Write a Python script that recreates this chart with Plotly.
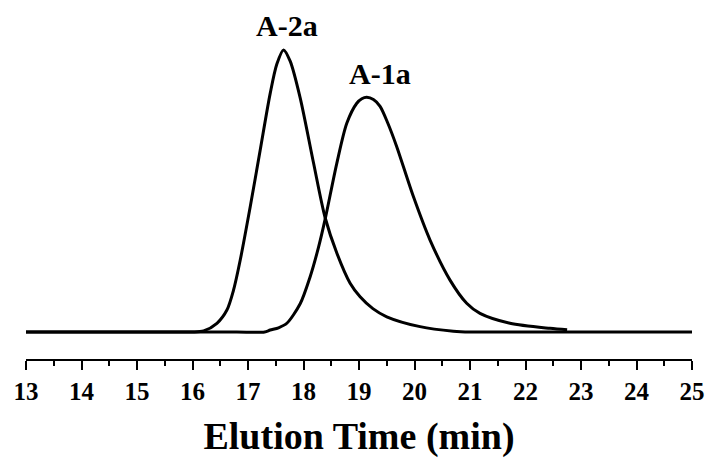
import plotly.graph_objects as go

# A-2a trace (elution time in min, normalized intensity)
a2a_x = [13.0, 14.0, 15.0, 15.6, 16.0, 16.2, 16.44, 16.62, 16.74, 16.86, 17.04, 17.22, 17.4,
         17.52, 17.64, 17.76, 17.94, 18.18, 18.39, 18.6, 18.84, 19.02, 19.25, 19.5, 20.1,
         20.7, 21.0, 22.0, 23.0, 24.0, 25.0]
a2a_y = [0.0, 0.0, 0.0, 0.0, 0.0, 0.004, 0.031, 0.078, 0.149, 0.255, 0.444, 0.645, 0.846,
         0.95, 1.0, 0.96, 0.83, 0.6, 0.405, 0.28, 0.173, 0.125, 0.083, 0.054, 0.019,
         0.003, 0.0, 0.0, 0.0, 0.0, 0.0]

# A-1a trace
a1a_x = [13.0, 14.0, 15.0, 16.0, 16.8, 17.3, 17.4, 17.55, 17.7, 17.94, 18.12, 18.27, 18.39,
         18.6, 18.78, 18.96, 19.05, 19.14, 19.26, 19.38, 19.52, 19.68, 19.98, 20.28, 20.64,
         20.94, 21.18, 21.72, 22.44, 22.75]
a1a_y = [0.0, 0.0, 0.0, 0.0, 0.0, 0.0, 0.007, 0.015, 0.031, 0.10, 0.196, 0.30, 0.40,
         0.598, 0.74, 0.811, 0.827, 0.832, 0.824, 0.80, 0.74, 0.657, 0.48, 0.326, 0.184,
         0.102, 0.066, 0.031, 0.013, 0.008]

labels = ["A-2a", "A-1a"]
label_x = [17.71, 19.38]
label_y = [1.086, 0.915]

FONT = "Liberation Serif, Times New Roman, serif"

fig = go.Figure()
fig.add_trace(go.Scatter(x=a2a_x, y=a2a_y, mode="lines",
                         line=dict(color="black", width=3, shape="spline", smoothing=0.8),
                         showlegend=False, hoverinfo="skip"))
fig.add_trace(go.Scatter(x=a1a_x, y=a1a_y, mode="lines",
                         line=dict(color="black", width=3, shape="spline", smoothing=0.8),
                         showlegend=False, hoverinfo="skip"))

for t, x, y in zip(labels, label_x, label_y):
    fig.add_annotation(x=x, y=y, text=t, showarrow=False,
                       font=dict(family=FONT, size=30, color="black", weight="bold"),
                       xanchor="center", yanchor="middle")

fig.update_layout(
    width=709, height=458,
    margin=dict(l=26, r=17, t=20, b=99, autoexpand=False),
    paper_bgcolor="white", plot_bgcolor="white",
    xaxis=dict(range=[13, 25], dtick=1, tick0=13, showline=True, linecolor="black",
               linewidth=2, ticks="outside", ticklen=9, tickwidth=2, tickcolor="black",
               minor=dict(dtick=0.5, ticks="outside", ticklen=5, tickwidth=2, tickcolor="black"),
               showgrid=False, zeroline=False, automargin=False,
               tickfont=dict(family=FONT, size=25, color="black", weight="bold"),
               title=dict(text="Elution Time (min)", standoff=18,
                          font=dict(family=FONT, size=38, color="black", weight="bold"))),
    yaxis=dict(range=[-0.0957, 1.106], visible=False, showgrid=False, zeroline=False),
)

fig.write_html("out.html", config={"displayModeBar": False},
               post_script="document.body.style.margin='0';document.body.style.overflow='hidden';")
